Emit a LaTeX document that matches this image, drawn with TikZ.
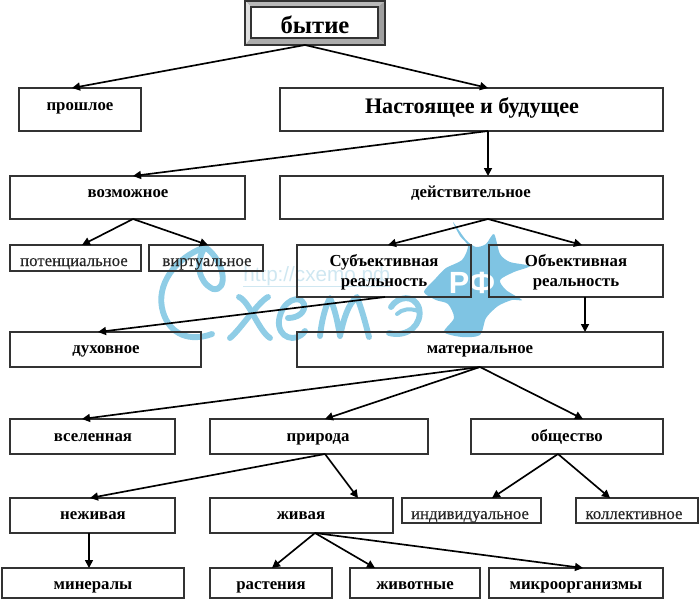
\documentclass[tikz,border=0pt]{standalone}
\usepackage{fontspec}
\setmainfont{Liberation Serif}
\newfontfamily\wmfont{Liberation Sans}
\newfontfamily\semifont[FakeBold=0.35]{Liberation Serif}
\usetikzlibrary{arrows.meta}
\definecolor{ink}{HTML}{333333}
\definecolor{wm}{HTML}{8FCDE6}
\definecolor{wmtext}{HTML}{CFE7F1}
\definecolor{splash}{HTML}{7FC4E3}
\tikzset{
  px/.style={x=0.75pt,y=-0.75pt},
  boxnode/.style={draw=ink,line width=0.8pt,rectangle,inner sep=0pt,outer sep=0pt},
  txt/.style={font=\bfseries\fontsize{12.6}{14}\selectfont,text=black,inner sep=0pt,anchor=base},
  txtbig/.style={txt,font=\bfseries\fontsize{16.6}{18}\selectfont},
  txttop/.style={txt,font=\bfseries\fontsize{18.5}{20}\selectfont},
  txtsmall/.style={txt,font=\semifont\fontsize{12.6}{14}\selectfont,text=black!85},
  arr/.style={draw=black,line width=1.25pt,-{Triangle[length=6pt,width=6pt]}},
  script/.style={draw=wm,line width=4.4pt,line cap=round,line join=round},
}
% name, x1, y1, x2, y2
\newcommand{\bx}[5]{\node[boxnode,minimum width={(#4-#2)*0.75pt},minimum height={(#5-#3)*0.75pt}] (#1) at ({(#2+#4)/2},{(#3+#5)/2}) {};}
\begin{document}
\begin{tikzpicture}[px]
\useasboundingbox (0,0) rectangle (699,600);
% watermark splash
\fill[splash] plot[smooth cycle,tension=0.45] coordinates {
 (453,222) (460,236) (468,246) (462,260) (446,268) (436,278) (424,292) (436,300) (448,304)
 (454,318) (444,332) (462,337) (480,335) (486,318) (498,306) (512,300) (522,300) (506,290)
 (500,280) (514,272) (530,266) (510,262) (500,254) (494,234) (486,244) (476,247) (466,240)};
% watermark script
\draw[script] (212,334) .. controls (190,342) and (170,335) .. (163,312)
  .. controls (155,285) and (175,258) .. (205,247)
  .. controls (195,262) and (198,282) .. (213,289)
  .. controls (228,292) and (226,262) .. (205,247);
\draw[script] (239,297) .. controls (250,302) and (258,330) .. (270,338);
\draw[script] (268,297) .. controls (258,302) and (240,330) .. (230,338);
\draw[script] (288,318) .. controls (298,318) and (306,312) .. (304,304)
  .. controls (300,294) and (282,300) .. (279,320)
  .. controls (277,338) and (296,344) .. (305,331);
\draw[script] (320,336) .. controls (322,318) and (326,305) .. (330,298)
  .. controls (336,312) and (338,325) .. (340,336)
  .. controls (344,318) and (348,304) .. (357,297)
  .. controls (362,310) and (366,325) .. (369,337);
\draw[script] (391,307) .. controls (398,296) and (414,294) .. (419,308)
  .. controls (423,324) and (408,338) .. (389,333);
\draw[script,line width=3pt] (397,314) .. controls (402,309) and (410,308) .. (418,311);
\node[font=\wmfont\fontsize{15.5}{17}\selectfont,text=wmtext,inner sep=0pt,anchor=west] (url) at (243,276) {http://cxemo.рф};
\draw[wmtext,line width=0.6pt] (url.south west) -- (url.south east);
\node[font=\wmfont\bfseries\fontsize{23}{25}\selectfont,text=white,inner sep=0pt] (rf) at (472,283) {РФ};
% boxes
\bx{byt}{245}{1}{385}{45}
\fill[gray!55] (245,1) -- (385,1) -- (378,7) -- (251,7) -- cycle;
\fill[gray!25] (245,1) -- (251,7) -- (251,38) -- (245,45) -- cycle;
\fill[gray!75] (385,1) -- (378,7) -- (378,38) -- (385,45) -- cycle;
\fill[gray!65] (245,45) -- (251,38) -- (378,38) -- (385,45) -- cycle;
\draw[ink,line width=0.8pt] (245,1) rectangle (385,45);
\draw[ink,line width=0.8pt] (251,7) rectangle (378,38);
\bx{pro}{19}{88}{141}{131}
\bx{nas}{280}{88}{663}{131}
\bx{voz}{10}{176}{245}{219}
\bx{dei}{280}{176}{663}{219}
\bx{pot}{10}{245}{141}{271}
\bx{vir}{149}{245}{263}{271}
\bx{sub}{297}{245}{471}{297}
\bx{obj}{489}{245}{663}{297}
\bx{duh}{10}{332}{201}{367}
\bx{mat}{297}{332}{663}{367}
\bx{vse}{10}{419}{175}{454}
\bx{pri}{210}{419}{428}{454}
\bx{obs}{471}{419}{663}{454}
\bx{nez}{10}{498}{175}{533}
\bx{ziv}{210}{498}{393}{533}
\bx{ind}{402}{498}{541}{523}
\bx{kol}{576}{498}{698}{523}
\bx{min}{2}{568}{184}{598}
\bx{ras}{210}{568}{332}{598}
\bx{ziv2}{350}{568}{480}{598}
\bx{mik}{489}{568}{663}{598}
% texts
\node[txttop] (tbyt) at (315,33) {бытие};
\node[txt] (tpro) at (80,110) {прошлое};
\node[txtbig] (tnas) at (472,113) {Настоящее и будущее};
\node[txt] (tvoz) at (128,197) {возможное};
\node[txt] (tdei) at (471,197) {действительное};
\node[txtsmall] (tpot) at (74,266) {потенциальное};
\node[txtsmall] (tvir) at (207,266) {виртуальное};
\node[txt] (tsub1) at (384,266) {Субъективная};
\node[txt] (tsub2) at (384,286) {реальность};
\node[txt] (tobj1) at (576,266) {Объективная};
\node[txt] (tobj2) at (576,286) {реальность};
\node[txt] (tduh) at (106,353) {духовное};
\node[txt] (tmat) at (480,353) {материальное};
\node[txt] (tvse) at (93,441) {вселенная};
\node[txt] (tpri) at (318,441) {природа};
\node[txt] (tobs) at (567,441) {общество};
\node[txt] (tnez) at (93,519) {неживая};
\node[txt] (tziv) at (301,519) {живая};
\node[txtsmall] (tind) at (470,519) {индивидуальное};
\node[txtsmall] (tkol) at (634,519) {коллективное};
\node[txt] (tmin) at (93,589) {минералы};
\node[txt] (tras) at (271,589) {растения};
\node[txt] (tziv2) at (415,589) {животные};
\node[txt] (tmik) at (576,589) {микроорганизмы};
% connectors
\draw[arr] (byt.south -| 305,0) -- (pro.north -| 72,0);
\draw[arr] (byt.south -| 305,0) -- (nas.north -| 488,0);
\draw[arr] (nas.south -| 488,0) -- (voz.north -| 133,0);
\draw[arr] (nas.south -| 488,0) -- (dei.north -| 488,0);
\draw[arr] (voz.south -| 133,0) -- (pot.north -| 82,0);
\draw[arr] (voz.south -| 133,0) -- (vir.north -| 208,0);
\draw[arr] (dei.south -| 488,0) -- (sub.north -| 388,0);
\draw[arr] (dei.south -| 488,0) -- (obj.north -| 582,0);
\draw[arr] (sub.south -| 385,0) -- (duh.north -| 98,0);
\draw[arr] (obj.south -| 585,0) -- (mat.north -| 585,0);
\draw[arr] (mat.south -| 480,0) -- (vse.north -| 82,0);
\draw[arr] (mat.south -| 480,0) -- (pri.north -| 325,0);
\draw[arr] (mat.south -| 480,0) -- (obs.north -| 583,0);
\draw[arr] (pri.south -| 325,0) -- (nez.north -| 90,0);
\draw[arr] (pri.south -| 325,0) -- (ziv.north -| 358,0);
\draw[arr] (obs.south -| 558,0) -- (ind.north -| 492,0);
\draw[arr] (obs.south -| 558,0) -- (kol.north -| 610,0);
\draw[arr] (nez.south -| 89,0) -- (min.north -| 89,0);
\draw[arr] (ziv.south -| 315,0) -- (ras.north -| 272,0);
\draw[arr] (ziv.south -| 315,0) -- (ziv2.north -| 375,0);
\draw[arr] (ziv.south -| 315,0) -- (mik.north -| 583,0);
\end{tikzpicture}
\end{document}
